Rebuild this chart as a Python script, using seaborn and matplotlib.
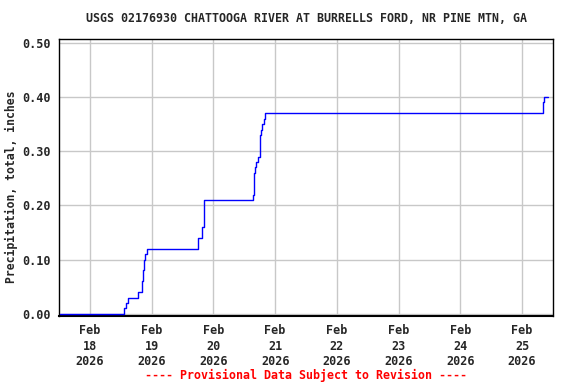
import matplotlib
matplotlib.use("Agg")
import matplotlib.pyplot as plt
import seaborn as sns
import pandas as pd

# ---- data ----
times = [
    "2026-02-17 12:15", "2026-02-18 13:16", "2026-02-18 13:55", "2026-02-18 14:53",
    "2026-02-18 18:43", "2026-02-18 20:10", "2026-02-18 20:31", "2026-02-18 20:53",
    "2026-02-18 21:22", "2026-02-18 22:12", "2026-02-19 18:12", "2026-02-19 19:45",
    "2026-02-19 20:15", "2026-02-20 15:13", "2026-02-20 15:36", "2026-02-20 15:43",
    "2026-02-20 16:15", "2026-02-20 16:45", "2026-02-20 17:17", "2026-02-20 17:56",
    "2026-02-20 18:12", "2026-02-20 18:35", "2026-02-20 18:58", "2026-02-20 19:38",
    "2026-02-20 20:08", "2026-02-25 08:15", "2026-02-25 08:38", "2026-02-25 10:05",
]
precip = [
    0.00, 0.01, 0.02, 0.03,
    0.04, 0.06, 0.08, 0.10,
    0.11, 0.12, 0.14, 0.16,
    0.21, 0.22, 0.24, 0.26,
    0.27, 0.28, 0.29, 0.30,
    0.33, 0.34, 0.35, 0.36,
    0.37, 0.39, 0.40, 0.40,
]
tick_days = ["2026-02-18", "2026-02-19", "2026-02-20", "2026-02-21",
             "2026-02-22", "2026-02-23", "2026-02-24", "2026-02-25"]
y_ticks = [0.00, 0.10, 0.20, 0.30, 0.40, 0.50]
title = "USGS 02176930 CHATTOOGA RIVER AT BURRELLS FORD, NR PINE MTN, GA"
ylabel = "Precipitation, total, inches"
footer = "---- Provisional Data Subject to Revision ----"

df = pd.DataFrame({"time": pd.to_datetime(times), "precip": precip})

sns.set_style("white")
plt.rcParams["font.family"] = ["DejaVu Sans Mono", "DejaVu Sans"]
plt.rcParams["font.weight"] = "bold"

fig = plt.figure(figsize=(5.76, 3.84), dpi=100)
ax = fig.add_axes([59 / 576, 1 - 316 / 384, (553 - 59) / 576, (316 - 39) / 384])

sns.lineplot(data=df, x="time", y="precip", ax=ax, color="#0000ff",
             linewidth=1.0, drawstyle="steps-post", zorder=3)

ax.set_xlim(pd.Timestamp("2026-02-17 12:00"), pd.Timestamp("2026-02-25 12:00"))
ax.set_ylim(-0.004, 0.507)

tick_pos = pd.to_datetime(tick_days)
ax.set_xticks(tick_pos)
ax.set_xticklabels([f"{d:%b}\n{d.day}\n{d.year}" for d in tick_pos],
                   fontsize=8.5, fontweight="bold", linespacing=1.25)
ax.set_yticks(y_ticks)
ax.set_yticklabels([f"{v:.2f}" for v in y_ticks], fontsize=8.5, fontweight="bold")

ax.grid(True, color="#c8c8c8", linewidth=1.0, zorder=0)
ax.tick_params(axis="both", length=0, pad=6)
for name, s in ax.spines.items():
    s.set_color("black")
    s.set_linewidth(1.5 if name == "bottom" else 1.0)

ax.set_xlabel("")
ax.set_ylabel(ylabel, fontsize=8.3, fontweight="bold")
ax.yaxis.set_label_coords((18 - 59) / 494, 0.465)

fig.text(306 / 576, 1 - 19 / 384, title, ha="center", va="center",
         fontsize=8.4, fontweight="bold")
fig.text(306 / 576, 1 - 375 / 384, footer, ha="center", va="center",
         fontsize=8.4, fontweight="bold", color="#ff0000")

fig.savefig("out.png", dpi=100)
